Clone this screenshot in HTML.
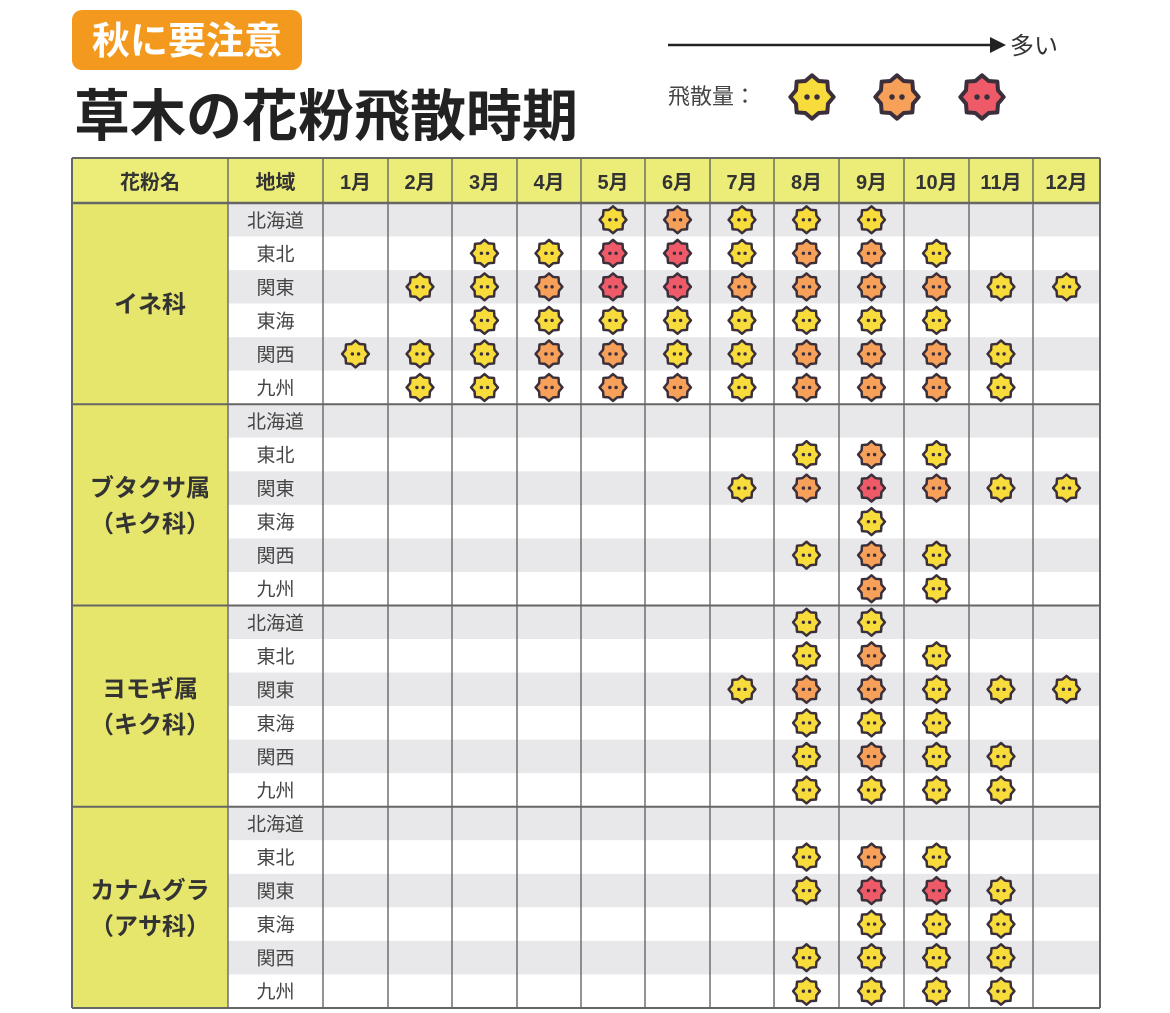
<!DOCTYPE html>
<html><head><meta charset="utf-8"><style>
html,body{margin:0;padding:0;background:#fff;}
svg{display:block;}
text{font-family:"Liberation Sans","Noto Sans CJK JP",sans-serif;}
</style></head><body>
<svg id="s" width="1170" height="1013" viewBox="0 0 1170 1013" xmlns="http://www.w3.org/2000/svg">
<defs>
<symbol id="st" viewBox="-15 -15 30 30">
<polygon points="0,-13 4,-9.6 9.2,-9.2 9.6,-4 13,0 9.6,4 9.2,9.2 4,9.6 0,13 -4,9.6 -9.2,9.2 -9.6,4 -13,0 -9.6,-4 -9.2,-9.2 -4,-9.6" stroke="#3a2f3a" stroke-width="2.4" stroke-linejoin="round"/>
</symbol>
</defs>
<rect x="72" y="10" width="230" height="60" rx="10" fill="#f39a1e"/>
<text x="187" y="54" font-size="38" fill="#fff" text-anchor="middle" font-weight="bold">秋に要注意</text>
<text x="74" y="136" font-size="56" font-weight="bold" fill="#222">草木の花粉飛散時期</text>
<line x1="668" y1="45" x2="992" y2="45" stroke="#222" stroke-width="2.5"/>
<polygon points="990,37 1006,45 990,53" fill="#222"/>
<text x="1010" y="54" font-size="24" fill="#333">多い</text>
<text x="668" y="104" font-size="22" fill="#444">飛散量：</text>
<g id="legend"></g>
<g id="tbl"></g>
</svg>
<script>
(function(){
const ns="http://www.w3.org/2000/svg",tbl=document.getElementById('tbl');
function el(t,a,p){const e=document.createElementNS(ns,t);for(const k in a)e.setAttribute(k,a[k]);(p||tbl).appendChild(e);return e;}
const C={Y:"#f8dc3c",O:"#f6a05a",R:"#ee5a68"};
function icon(cx,cy,sz,c,p){const g=el('g',{fill:C[c]},p);el('use',{href:'#st',x:cx-sz/2,y:cy-sz/2,width:sz,height:sz},g);
 const d=sz*0.1,r=sz*0.055;el('circle',{cx:cx-d,cy:cy,r:r,fill:'#3a2f3a'},g);el('circle',{cx:cx+d,cy:cy,r:r,fill:'#3a2f3a'},g);}
const lg=document.getElementById('legend');
const cols=[72,228,323,388,452,517,581,645,710,774,839,904,969,1033,1100];
const y0=203,rh=(1008-203)/24;
el('rect',{x:72,y:158,width:1028,height:45,fill:'#ecec78'});
const hdr=['花粉名','地域','1月','2月','3月','4月','5月','6月','7月','8月','9月','10月','11月','12月'];
hdr.forEach((h,i)=>{const t=el('text',{x:(cols[i]+cols[i+1])/2,y:189,'font-size':20,'font-weight':'bold','text-anchor':'middle',fill:'#333'});t.textContent=h;});
const groups=[['イネ科'],['ブタクサ属','（キク科）'],['ヨモギ属','（キク科）'],['カナムグラ','（アサ科）']];
const regs=['北海道','東北','関東','東海','関西','九州'];
const data=[
[{5:'Y',6:'O',7:'Y',8:'Y',9:'Y'},{3:'Y',4:'Y',5:'R',6:'R',7:'Y',8:'O',9:'O',10:'Y'},{2:'Y',3:'Y',4:'O',5:'R',6:'R',7:'O',8:'O',9:'O',10:'O',11:'Y',12:'Y'},{3:'Y',4:'Y',5:'Y',6:'Y',7:'Y',8:'Y',9:'Y',10:'Y'},{1:'Y',2:'Y',3:'Y',4:'O',5:'O',6:'Y',7:'Y',8:'O',9:'O',10:'O',11:'Y'},{2:'Y',3:'Y',4:'O',5:'O',6:'O',7:'Y',8:'O',9:'O',10:'O',11:'Y'}],
[{},{8:'Y',9:'O',10:'Y'},{7:'Y',8:'O',9:'R',10:'O',11:'Y',12:'Y'},{9:'Y'},{8:'Y',9:'O',10:'Y'},{9:'O',10:'Y'}],
[{8:'Y',9:'Y'},{8:'Y',9:'O',10:'Y'},{7:'Y',8:'O',9:'O',10:'Y',11:'Y',12:'Y'},{8:'Y',9:'Y',10:'Y'},{8:'Y',9:'O',10:'Y',11:'Y'},{8:'Y',9:'Y',10:'Y',11:'Y'}],
[{},{8:'Y',9:'O',10:'Y'},{8:'Y',9:'R',10:'R',11:'Y'},{9:'Y',10:'Y',11:'Y'},{8:'Y',9:'Y',10:'Y',11:'Y'},{8:'Y',9:'Y',10:'Y',11:'Y'}]];
for(let g=0;g<4;g++){
 const gy=y0+g*6*rh;
 el('rect',{x:72,y:gy,width:156,height:6*rh,fill:'#e6e66c'});
 for(let r=0;r<6;r++){
  const y=gy+r*rh;
  el('rect',{x:228,y:y,width:872,height:rh,fill:r%2==0?'#e8e8ea':'#fff'});
  const t=el('text',{x:275.5,y:y+rh/2+7,'font-size':19,'text-anchor':'middle',fill:'#444'});t.textContent=regs[r];
  const d=data[g][r];
  for(const m in d){icon((cols[+m+1]+cols[+m+2])/2,y+rh/2,31,d[m]);}
 }
 const lines=groups[g];
 lines.forEach((l,i)=>{const t=el('text',{x:150,y:gy+3*rh+9+(i-(lines.length-1)/2)*36,'font-size':24,'font-weight':'bold','text-anchor':'middle',fill:'#333'});t.textContent=l;});
 el('line',{x1:72,y1:gy,x2:1100,y2:gy,stroke:'#666','stroke-width':g==0?2.5:2});
}
cols.forEach((x,i)=>el('line',{x1:x,y1:158,x2:x,y2:1008,stroke:'#666','stroke-width':(i==0||i==14)?2:1.4}));
el('line',{x1:72,y1:158,x2:1100,y2:158,stroke:'#666','stroke-width':2});
el('line',{x1:72,y1:1008,x2:1100,y2:1008,stroke:'#666','stroke-width':2});
icon(812,97,50,'Y',lg);icon(897,97,50,'O',lg);icon(982,97,50,'R',lg);
})();
</script>
</body></html>
